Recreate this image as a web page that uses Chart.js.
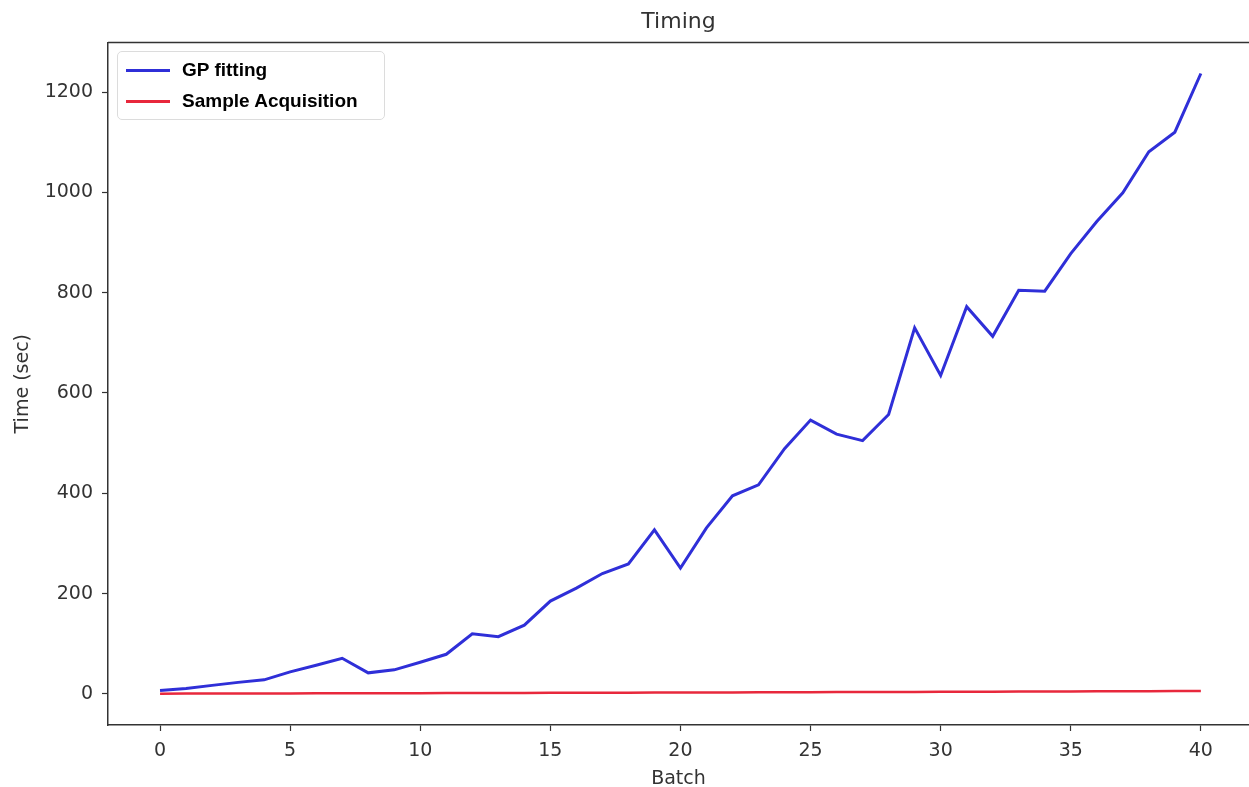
<!DOCTYPE html>
<html>
<head>
<meta charset="utf-8">
<script src="https://cdn.jsdelivr.net/npm/chart.js@4.4.1/dist/chart.umd.min.js"></script>
<style>
    html, body { margin: 0; padding: 0; background: #fff; }
    #wrap { position: relative; width: 1249px; height: 787px; }
    #legend {
        position: absolute; left: 117px; top: 51px; width: 268px; height: 69px;
        border: 1px solid #dcdcdc; border-radius: 5px; background: rgba(255,255,255,0.85);
        box-sizing: border-box; font-family: "Liberation Sans", Arial, sans-serif;
        font-weight: bold; font-size: 19px; color: #000;
    }
    #legend .item { position: absolute; left: 8px; height: 24px; display: flex; align-items: center; }
    #legend .swatch { width: 44px; margin-right: 12px; }
</style>
</head>
<body>
<div id="wrap">
    <canvas id="timingChart" width="1249" height="787"></canvas>
    <div id="legend"></div>
</div>
<script>
// Batch index along the x axis
const batches = [0, 1, 2, 3, 4, 5, 6, 7, 8, 9, 10, 11, 12, 13, 14, 15, 16, 17, 18, 19, 20,
    21, 22, 23, 24, 25, 26, 27, 28, 29, 30, 31, 32, 33, 34, 35, 36, 37, 38, 39, 40];
// Time (sec) spent per batch
const gpFitting = [7, 11, 17, 23, 28, 44, 57, 71, 42, 48, 63, 79, 120, 114, 137, 185, 211, 240, 259, 327,
    251, 331, 395, 417, 489, 546, 518, 505, 557, 730, 635, 772, 713, 805, 803, 878, 942, 999, 1081, 1120, 1237];
const sampleAcquisition = [0.5, 0.6, 0.7, 0.8, 0.9, 1.0, 1.1, 1.2, 1.3, 1.4, 1.5, 1.7, 1.8, 1.9, 2.0, 2.1,
    2.3, 2.4, 2.5, 2.7, 2.8, 2.9, 3.0, 3.2, 3.3, 3.5, 3.6, 3.7, 3.9, 4.0, 4.2, 4.3, 4.5, 4.6, 4.8, 5.0,
    5.1, 5.3, 5.5, 5.7, 5.9];
// Tick labels
const xTicks = [0, 5, 10, 15, 20, 25, 30, 35, 40];
const yTicks = [0, 200, 400, 600, 800, 1000, 1200];

const tickFont = { family: "DejaVu Sans", size: 19 };
const axisColor = "#333";

// top spine of the frame (right one falls off the picture)
const framePlugin = {
    id: "frame",
    afterDraw(chart) {
        const { ctx, chartArea } = chart;
        ctx.save();
        ctx.strokeStyle = axisColor;
        ctx.lineWidth = 1.5;
        ctx.beginPath();
        ctx.moveTo(chartArea.left, chartArea.top);
        ctx.lineTo(chartArea.right + 5, chartArea.top);
        ctx.stroke();
        ctx.restore();
    },
};

const ctx = document.getElementById("timingChart");
const chart = new Chart(ctx.getContext("2d"), {
    type: "line",
    data: {
        datasets: [
            {
                label: "GP fitting",
                data: batches.map((b, i) => ({ x: b, y: gpFitting[i] })),
                borderColor: "#2f2fd8",
                borderWidth: 3,
                pointRadius: 0,
                tension: 0,
            },
            {
                label: "Sample Acquisition",
                data: batches.map((b, i) => ({ x: b, y: sampleAcquisition[i] })),
                borderColor: "#e8283c",
                borderWidth: 2.5,
                pointRadius: 0,
                tension: 0,
            },
        ],
    },
    options: {
        responsive: false,
        animation: false,
        layout: { padding: 0 },
        plugins: {
            legend: { display: false },
            tooltip: { enabled: false },
            title: {
                display: true,
                text: "Timing",
                fullSize: false,
                color: axisColor,
                font: { family: "DejaVu Sans", size: 22, weight: "normal" },
                padding: { top: 9, bottom: 7 },
            },
        },
        scales: {
            x: {
                type: "linear",
                min: -2,
                max: 41.85,
                afterBuildTicks: (scale) => { scale.ticks = xTicks.map((v) => ({ value: v })); },
                afterFit: (scale) => { scale.height = 62; },
                grid: { drawOnChartArea: false, drawTicks: true, tickLength: 6, tickColor: axisColor, tickWidth: 1.2 },
                border: { display: true, color: axisColor, width: 1.5 },
                ticks: { color: axisColor, font: tickFont, padding: 9, maxRotation: 0, callback: (v) => String(v) },
                title: {
                    display: true,
                    text: "Batch",
                    color: axisColor,
                    font: { family: "DejaVu Sans", size: 19, lineHeight: 1 },
                    padding: { top: 5, bottom: -2 },
                },
            },
            y: {
                type: "linear",
                min: -62,
                max: 1299,
                afterBuildTicks: (scale) => { scale.ticks = yTicks.map((v) => ({ value: v })); },
                afterFit: (scale) => { scale.width = 108; },
                grid: { drawOnChartArea: false, drawTicks: true, tickLength: 6, tickColor: axisColor, tickWidth: 1.2 },
                border: { display: true, color: axisColor, width: 1.5 },
                ticks: { color: axisColor, font: tickFont, padding: 9, callback: (v) => String(v) },
                title: {
                    display: true,
                    text: "Time (sec)",
                    color: axisColor,
                    font: { family: "DejaVu Sans", size: 19, lineHeight: 1 },
                    padding: { top: 14, bottom: 0 },
                },
            },
        },
    },
    plugins: [framePlugin],
});

// legend box inside the plot, built from the datasets
const legendEl = document.getElementById("legend");
chart.data.datasets.forEach((ds, i) => {
    const item = document.createElement("div");
    item.className = "item";
    item.style.top = (6 + i * 31) + "px";
    const sw = document.createElement("span");
    sw.className = "swatch";
    sw.style.borderTop = "3px solid " + ds.borderColor;
    const label = document.createElement("span");
    label.textContent = ds.label;
    item.appendChild(sw);
    item.appendChild(label);
    legendEl.appendChild(item);
});
</script>
</body>
</html>
